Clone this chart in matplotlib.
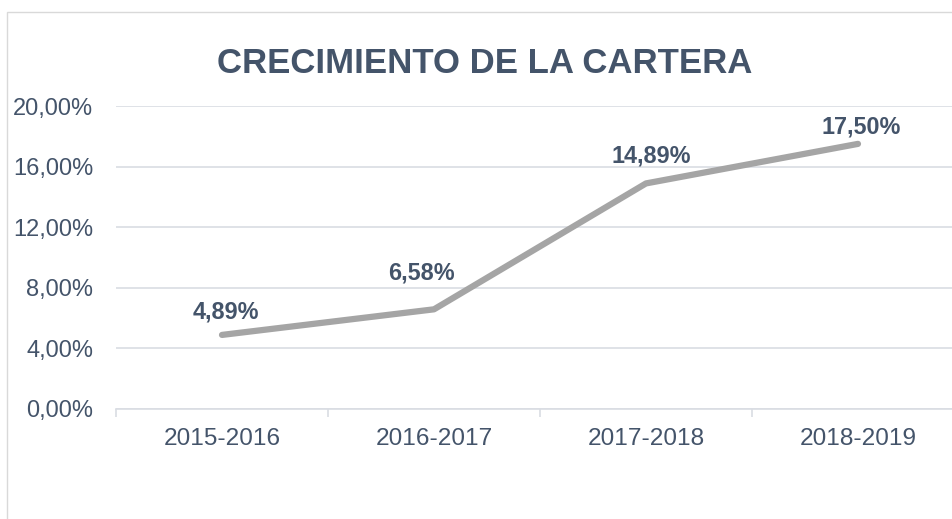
import matplotlib
matplotlib.use("Agg")
import matplotlib.pyplot as plt
from matplotlib.ticker import FuncFormatter, FixedLocator
from matplotlib.patches import Rectangle

categories = ["2015-2016", "2016-2017", "2017-2018", "2018-2019"]
values = [4.89, 6.58, 14.89, 17.50]
yticks = [0, 4, 8, 12, 16, 20]
title = "CRECIMIENTO DE LA CARTERA"

# label offsets (pixels, dx, dy) of each data label's baseline from its point
label_offsets = [(3.5, 16), (-13, 30), (5.5, 21), (3.5, 10)]

W, H = 952, 519
fig = plt.figure(figsize=(W / 100, H / 100), dpi=100)
fig.patch.set_facecolor("white")

text_color = "#44546A"
grid_color = "#D9DDE3"
fam = ["Liberation Sans", "DejaVu Sans"]

# outer chart border (partially cut off at right/bottom)
fig.add_artist(Rectangle((7 / W, -0.05), 1.2, (H - 12) / H + 0.05,
                         transform=fig.transFigure, fill=False,
                         edgecolor="#D9D9D9", linewidth=1.0))

ax = fig.add_axes([116 / W, (H - 409) / H, 848 / W, (409 - 106) / H])
ax.set_facecolor("none")
x = list(range(len(categories)))
ax.plot(x, values, color="#A5A5A5", linewidth=4.5, solid_capstyle="round",
        solid_joinstyle="round", zorder=3)

ax.set_xlim(-0.5, len(categories) - 0.5)
ax.set_ylim(0, 20)
ax.set_yticks(yticks)
ax.yaxis.set_major_formatter(FuncFormatter(lambda v, p: f"{v:.2f}".replace(".", ",") + "%"))
ax.set_xticks(x)
ax.set_xticklabels(categories)
ax.xaxis.set_minor_locator(FixedLocator([i - 0.5 for i in range(len(categories) + 1)]))

for s in ["top", "right", "left"]:
    ax.spines[s].set_visible(False)
ax.spines["bottom"].set_color(grid_color)
ax.spines["bottom"].set_linewidth(1.2)
ax.grid(axis="y", color=grid_color, linewidth=1.2, zorder=0)
ax.set_axisbelow(True)

ax.tick_params(axis="y", length=0, pad=16.5, labelsize=17, labelcolor=text_color)
ax.tick_params(axis="x", which="major", length=0, pad=14, labelsize=17.6, labelcolor=text_color)
ax.tick_params(axis="x", which="minor", length=6, width=1.2, color=grid_color)

for lbl in ax.get_xticklabels() + ax.get_yticklabels():
    lbl.set_fontfamily(fam)

for xi, v, (dx, dy) in zip(x, values, label_offsets):
    ax.annotate(f"{v:.2f}".replace(".", ",") + "%", (xi, v),
                xytext=(dx * 0.72, dy * 0.72),
                textcoords="offset points", ha="center", va="baseline",
                fontsize=16.8, fontweight="bold", color=text_color, family=fam)

fig.text(485 / W, (H - 73) / H, title, ha="center", va="baseline",
         fontsize=25, fontweight="bold", color=text_color,
         family=["Liberation Sans Narrow", "Liberation Sans", "DejaVu Sans"])

fig.savefig("out.png", dpi=100, facecolor="white")
